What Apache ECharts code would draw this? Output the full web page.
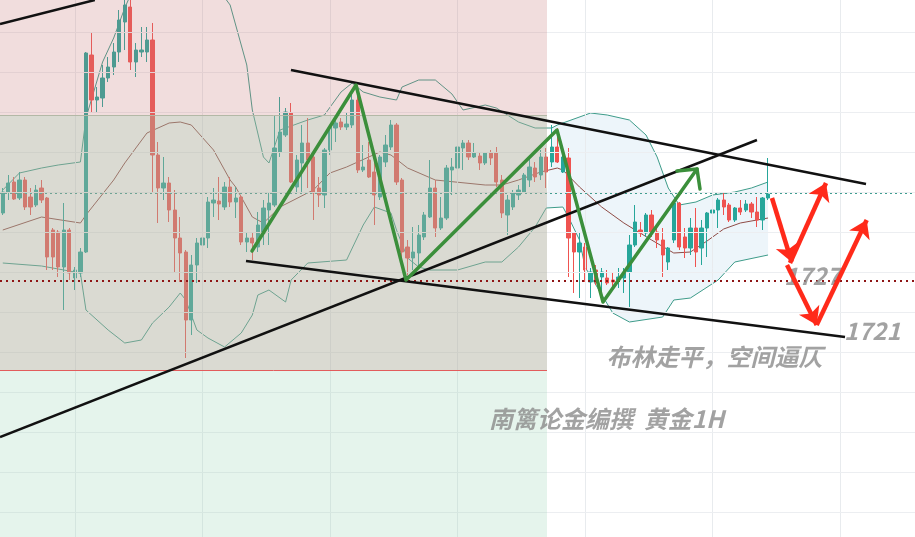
<!DOCTYPE html>
<html><head><meta charset="utf-8">
<script src="https://cdn.jsdelivr.net/npm/echarts@6/dist/echarts.min.js"></script>
<style>html,body{margin:0;padding:0;background:#fff}#c{width:915px;height:537px}</style>
</head><body><div id="c"></div>
<script>
// candles: [open, close, low, high]
const candles = [
[1733.9,1736.0,1733.7,1736.4],[1736.0,1736.9,1735.2,1737.7],[1737.0,1735.3,1735.2,1737.5],[1735.4,1737.2,1735.2,1738.0],
[1737.2,1734.5,1734.2,1737.5],[1735.5,1734.5,1733.7,1736.4],[1734.7,1736.2,1734.5,1736.7],[1736.4,1735.2,1734.9,1737.2],
[1735.4,1729.5,1728.2,1735.5],[1732.2,1729.5,1728.2,1732.4],[1732.0,1728.5,1727.5,1732.2],[1728.5,1732.2,1724.2,1734.9],
[1732.2,1727.9,1727.2,1732.4],[1727.4,1728.2,1726.2,1728.5],[1727.9,1730.0,1727.5,1730.4],[1730.0,1749.9,1729.9,1750.0],
[1749.7,1745.2,1743.9,1751.9],[1745.2,1745.5,1743.9,1746.5],[1745.4,1747.4,1744.5,1748.7],[1747.4,1748.5,1747.0,1749.5],
[1748.5,1750.0,1747.7,1750.9],[1750.0,1753.2,1749.0,1754.2],[1753.0,1754.7,1750.2,1755.6],[1754.5,1749.0,1748.2,1755.6],
[1749.0,1750.2,1747.5,1750.9],[1750.0,1750.2,1749.5,1752.5],[1750.0,1751.2,1749.0,1752.5],[1751.2,1739.7,1735.9,1752.9],
[1739.7,1736.4,1732.9,1741.0],[1736.4,1736.9,1735.2,1739.5],[1736.9,1734.2,1733.0,1737.5],[1734.2,1731.4,1728.0,1736.2],
[1731.4,1729.9,1727.0,1733.5],[1730.0,1723.2,1719.4,1730.2],[1723.2,1728.7,1721.7,1729.7],[1728.7,1730.9,1726.9,1731.4],
[1730.7,1731.4,1730.5,1736.4],[1731.4,1735.0,1730.4,1735.5],[1734.9,1735.2,1733.5,1736.4],[1735.1,1734.8,1733.2,1737.5],
[1734.5,1736.5,1734.2,1737.0],[1736.5,1735.0,1734.5,1737.5],[1735.0,1735.4,1733.4,1736.5],[1735.5,1731.0,1730.7,1735.7],
[1731.0,1731.4,1730.0,1731.9],[1731.4,1730.9,1729.2,1732.0],[1730.5,1732.7,1730.0,1734.0],[1731.9,1734.4,1730.7,1735.2],
[1734.2,1734.9,1730.7,1736.0],[1734.7,1740.4,1734.5,1743.7],[1740.0,1742.0,1739.5,1745.5],[1741.7,1744.0,1741.5,1744.4],
[1743.9,1737.0,1736.9,1744.9],[1736.5,1739.2,1736.0,1739.7],[1738.9,1740.9,1736.0,1742.7],[1740.9,1739.2,1736.4,1743.4],
[1739.5,1735.9,1733.2,1739.9],[1736.4,1735.7,1734.5,1737.5],[1735.7,1740.2,1734.4,1740.4],[1740.2,1742.5,1739.7,1742.7],
[1742.4,1742.9,1741.0,1743.2],[1743.0,1742.5,1742.2,1743.4],[1742.5,1742.8,1742.2,1743.9],[1742.7,1745.2,1742.4,1746.0],
[1745.2,1738.2,1737.9,1746.7],[1738.2,1738.5,1738.0,1740.7],[1739.2,1737.5,1737.4,1741.0],[1738.0,1735.7,1732.7,1739.9],
[1735.5,1739.5,1735.2,1739.7],[1739.0,1740.7,1738.5,1741.7],[1740.5,1742.7,1740.2,1743.2],[1742.7,1737.0,1736.7,1742.9],
[1737.2,1730.0,1729.2,1737.4],[1730.5,1729.4,1727.7,1731.2],[1729.4,1730.0,1728.2,1732.5],[1729.9,1731.7,1728.5,1732.7],
[1731.5,1733.7,1731.2,1734.0],[1733.5,1736.4,1733.4,1739.2],[1736.4,1732.4,1731.5,1737.2],[1732.4,1733.4,1732.2,1735.5],
[1733.4,1738.4,1733.2,1738.7],[1738.2,1738.5,1735.7,1739.4],[1738.4,1740.5,1737.2,1740.9],[1740.4,1740.9,1738.2,1741.2],
[1740.9,1739.5,1739.2,1741.2],[1739.5,1739.9,1739.4,1740.9],[1739.6,1738.9,1738.2,1739.9],[1738.9,1739.9,1738.7,1740.0],
[1739.9,1739.4,1738.7,1740.2],[1739.9,1737.0,1736.5,1740.5],[1737.2,1733.9,1733.4,1737.7],[1733.7,1735.2,1731.7,1735.7],
[1734.5,1735.9,1734.2,1736.2],[1735.7,1736.2,1735.2,1736.7],[1736.0,1737.7,1735.9,1737.9],[1737.2,1738.5,1736.5,1739.5],
[1738.4,1737.5,1737.0,1739.0],[1737.7,1739.5,1737.2,1740.2],[1739.5,1738.0,1736.4,1740.4],[1739.0,1740.5,1738.5,1742.7],
[1740.5,1739.0,1738.9,1742.4],[1738.0,1739.5,1737.9,1739.7],[1739.4,1731.4,1727.5,1740.4],[1731.9,1730.0,1725.9,1732.0],
[1730.0,1730.9,1725.4,1731.9],[1730.5,1728.2,1727.0,1730.9],[1727.0,1728.0,1725.4,1728.4],[1728.2,1727.0,1726.7,1728.7],
[1727.5,1728.0,1725.9,1728.4],[1727.4,1726.9,1726.7,1728.2],[1727.2,1727.0,1726.5,1727.9],[1727.2,1727.5,1726.4,1728.4],
[1727.4,1727.9,1725.9,1728.4],[1728.0,1730.7,1724.5,1731.7],[1730.7,1733.0,1730.5,1734.7],[1732.2,1731.9,1731.5,1733.0],
[1731.9,1733.7,1731.5,1733.9],[1733.7,1732.0,1731.5,1734.2],[1732.0,1731.2,1730.4,1732.4],[1731.2,1729.7,1727.5,1732.4],
[1729.0,1730.4,1728.2,1730.5],[1731.2,1734.9,1730.9,1735.0],[1734.9,1730.5,1730.2,1735.0],[1731.5,1730.4,1729.4,1732.4],
[1730.4,1732.4,1729.7,1733.4],[1732.4,1730.0,1728.5,1734.4],[1730.4,1732.4,1728.7,1733.2],[1732.4,1733.9,1729.5,1734.0],
[1733.9,1734.2,1733.7,1738.7],[1734.2,1735.2,1732.4,1735.4],[1735.2,1734.5,1733.7,1735.9],[1734.7,1733.2,1733.0,1734.9],
[1733.2,1734.4,1733.0,1734.5],[1734.4,1734.0,1733.7,1735.2],[1734.2,1734.8,1734.0,1735.2],[1734.8,1734.0,1733.4,1735.0],
[1734.0,1733.2,1732.5,1735.5],[1733.2,1735.4,1732.2,1735.5],[1735.4,1735.8,1735.2,1739.4]
];
// Bollinger bands: [candle index, price]
const bbUpper = [[0,1736.2],[3,1737.9],[7,1738.4],[10,1738.7],[14,1739.0],[15,1743.4],[18,1749.0],[20,1751.4],[22,1754.4],[25,1758.2],[30,1760.2],[35,1759.2],[41,1754.7],[44,1748.7],[45,1744.2],[47,1739.5],[48,1738.9],[50,1742.2],[55,1743.2],[58,1743.7],[61,1746.0],[63,1746.9],[65,1746.0],[68,1745.5],[71,1745.2],[72,1746.5],[75,1747.2],[78,1747.2],[81,1745.8],[83,1744.2],[87,1744.7],[89,1744.4],[93,1743.0],[96,1742.4],[99,1742.4],[100,1742.7],[106,1743.9],[109,1743.7],[113,1743.2],[116,1741.7],[118,1739.5],[120,1736.4],[122,1734.7],[125,1735.0],[128,1735.7],[132,1736.0],[135,1736.4],[138,1737.0]];
const bbMid = [[0,1732.2],[7,1733.5],[14,1732.9],[15,1733.7],[20,1737.2],[22,1738.9],[26,1741.9],[30,1742.9],[32,1743.0],[34,1742.7],[38,1740.2],[41,1737.2],[42,1736.5],[45,1733.5],[47,1732.9],[50,1734.5],[56,1736.2],[59,1737.9],[62,1738.5],[66,1739.5],[68,1740.0],[70,1739.7],[73,1738.4],[78,1737.2],[87,1736.7],[90,1736.7],[93,1737.2],[97,1738.0],[100,1738.4],[101,1738.2],[104,1736.5],[108,1734.5],[112,1732.9],[117,1731.2],[121,1729.9],[124,1730.0],[127,1731.1],[130,1732.3],[133,1732.9],[138,1733.4]];
const bbLower = [[0,1728.9],[7,1728.6],[14,1727.9],[15,1724.2],[19,1722.2],[22,1720.9],[25,1721.2],[27,1722.9],[30,1724.5],[32,1725.9],[33,1725.2],[35,1722.2],[37,1721.4],[40,1720.5],[43,1721.9],[45,1723.7],[46,1725.7],[48,1726.2],[51,1725.0],[52,1727.2],[55,1728.9],[62,1729.2],[65,1732.7],[67,1734.5],[70,1733.9],[71,1732.2],[73,1729.4],[75,1728.5],[77,1728.2],[82,1728.2],[87,1729.0],[90,1729.0],[93,1730.5],[96,1732.5],[98,1734.4],[101,1734.5],[102,1733.5],[104,1731.2],[105,1728.5],[110,1723.9],[113,1723.0],[119,1723.5],[121,1725.2],[124,1725.4],[129,1727.2],[132,1729.0],[138,1729.7]];
const dayTicks = [13,36,59,82,105,128,151];
const gridLevels = [1704,1708,1712,1716,1720,1724,1728,1732,1736,1740,1744,1748,1752];
const currentPrice = 1735.9;
const supportLevel = 1727.1;
// zones: [xStart, xEnd, priceTop, priceBottom]
const zones = [[-0.5,98.14,1760,1718.2],[-0.5,98.14,1743.7,1690]];
const trendLines = [
  [[-0.5,1752.8],[16.6,1755.2]],
  [[51.97,1748.2],[155.66,1736.8]],
  [[43.86,1729.1],[151.88,1721.5]],
  [[-0.5,1711.5],[136.0,1741.2]]
];
const zigzag = [[44.94,1730.1],[63.7,1746.7],[72.71,1727.2],[99.94,1742.2],[108.24,1725.0],[125.19,1738.3]];
const zigzagHead = [[121.58,1738.1],[125.19,1738.3],[125.73,1736.3]];
const redArrows = [
  [[138.71,1735.4],[142.26,1729.0]],
  [[141.96,1728.9],[148.45,1736.9]],
  [[141.42,1728.7],[146.77,1722.7]],
  [[146.77,1722.7],[155.79,1733.2]]
];
const notes = [
  {name:'1727', value:[146.0,1727.6]},
  {name:'1721', value:[156.8,1722.1]},
  {name:'布林走平，空间逼仄', value:[128.34,1719.55]},
  {name:'南篱论金编撰\u00a0\u00a0黄金1H', value:[108.87,1713.35]}
];
const hours = Array.from({length:165},(_, i)=>'H'+i);

const zoneColors = ['rgba(200,120,120,0.25)','rgba(150,212,178,0.25)'];
const chart = echarts.init(document.getElementById('c'));
const tf = 'Noto Sans CJK SC';
chart.setOption({
  animation:false,
  backgroundColor:'#ffffff',
  grid:{left:0,right:0,top:0,bottom:0,containLabel:false},
  xAxis:[
    {type:'category',data:hours,boundaryGap:true,axisLine:{show:false},axisTick:{show:false},axisLabel:{show:false},splitLine:{show:false}},
    {type:'value',min:-0.5,max:164.5,show:false}
  ],
  yAxis:{type:'value',min:1701.5,max:1755.2,axisLine:{show:false},axisTick:{show:false},axisLabel:{show:false},splitLine:{show:false}},
  series:[
    {type:'custom',xAxisIndex:1,yAxisIndex:0,z:1,silent:true,data:[[0,1730]],
      renderItem:function(params,api){
        const up = bbUpper.filter(p=>p[0]>=98).map(p=>api.coord(p));
        const lo = bbLower.filter(p=>p[0]>=98).reverse().map(p=>api.coord(p));
        return {type:'polygon',shape:{points:up.concat(lo)},style:{fill:'rgba(110,175,215,0.12)'}};
      }},
    {type:'candlestick',xAxisIndex:0,yAxisIndex:0,data:candles,barWidth:'68%',z:3,
      itemStyle:{color:'#26a69a',color0:'#ef5350',borderColor:'#26a69a',borderColor0:'#ef5350',borderWidth:1},
      markLine:{silent:true,symbol:'none',label:{show:false},
        data:dayTicks.map(v=>({xAxis:v,lineStyle:{color:'#e8ebee',width:1,type:'solid'}}))
          .concat(gridLevels.map(v=>({yAxis:v,lineStyle:{color:'#eceef1',width:1,type:'solid'}})))
          .concat([{yAxis:currentPrice,lineStyle:{color:'#3f9d90',width:1,type:[2,3]}}])}},
    {type:'line',xAxisIndex:1,yAxisIndex:0,data:bbUpper,showSymbol:false,z:3,lineStyle:{color:'#3e9c8a',width:1}},
    {type:'line',xAxisIndex:1,yAxisIndex:0,data:bbMid,showSymbol:false,z:3,lineStyle:{color:'#8f4c46',width:1}},
    {type:'line',xAxisIndex:1,yAxisIndex:0,data:bbLower,showSymbol:false,z:3,lineStyle:{color:'#3e9c8a',width:1}},
    {type:'custom',xAxisIndex:1,yAxisIndex:0,z:6,silent:true,data:zones,
      renderItem:function(params,api){
        const a = api.coord([api.value(0),api.value(2)]);
        const b = api.coord([api.value(1),api.value(3)]);
        return {type:'rect',shape:{x:a[0],y:a[1],width:b[0]-a[0],height:b[1]-a[1]},style:{fill:zoneColors[params.dataIndex]}};
      }},
    {type:'lines',coordinateSystem:'cartesian2d',xAxisIndex:1,yAxisIndex:0,z:7,silent:true,polyline:false,symbol:'none',
      data:[
        {coords:[[zones[1][0],zones[1][2]],[zones[1][1],zones[1][2]]],lineStyle:{color:'#b3b8a6',width:1,opacity:1}},
        {coords:[[zones[0][0],zones[0][3]],[zones[0][1],zones[0][3]]],lineStyle:{color:'#e25c5c',width:1,opacity:1}},
        {coords:[[-0.5,supportLevel],[164.5,supportLevel]],lineStyle:{color:'#8e1414',width:2,type:[2,4],opacity:1}}
      ]},
    {type:'scatter',xAxisIndex:1,yAxisIndex:0,z:8,silent:true,data:notes,symbolSize:1,itemStyle:{color:'rgba(0,0,0,0)'},
      label:{show:true,position:'inside',formatter:'{b}',color:'#8b8b8b',fontSize:24,fontWeight:'bold',fontStyle:'italic',fontFamily:tf}},
    {type:'scatter',xAxisIndex:1,yAxisIndex:0,z:8,silent:true,symbol:'rect',
      data:[{value:[164.7,1735.6],symbolSize:[7,22],itemStyle:{color:'#26a69a'}},{value:[164.7,supportLevel],symbolSize:[7,16],itemStyle:{color:'#8e1414'}}]},
    {type:'lines',coordinateSystem:'cartesian2d',xAxisIndex:1,yAxisIndex:0,z:10,silent:true,polyline:false,symbol:'none',
      data:trendLines.map(c=>({coords:c})),lineStyle:{color:'#111111',width:2.5,opacity:1}},
    {type:'lines',coordinateSystem:'cartesian2d',xAxisIndex:1,yAxisIndex:0,z:11,silent:true,polyline:true,symbol:'none',
      data:[{coords:zigzag},{coords:zigzagHead}],lineStyle:{color:'#3b8f3b',width:3.5,cap:'round',join:'round',opacity:1}},
    {type:'lines',coordinateSystem:'cartesian2d',xAxisIndex:1,yAxisIndex:0,z:12,silent:true,polyline:false,
      symbol:['none','arrow'],symbolSize:17,
      data:redArrows.map(c=>({coords:c})),lineStyle:{color:'#ff2a1a',width:4.5,opacity:1}}
  ]
});
</script></body></html>
